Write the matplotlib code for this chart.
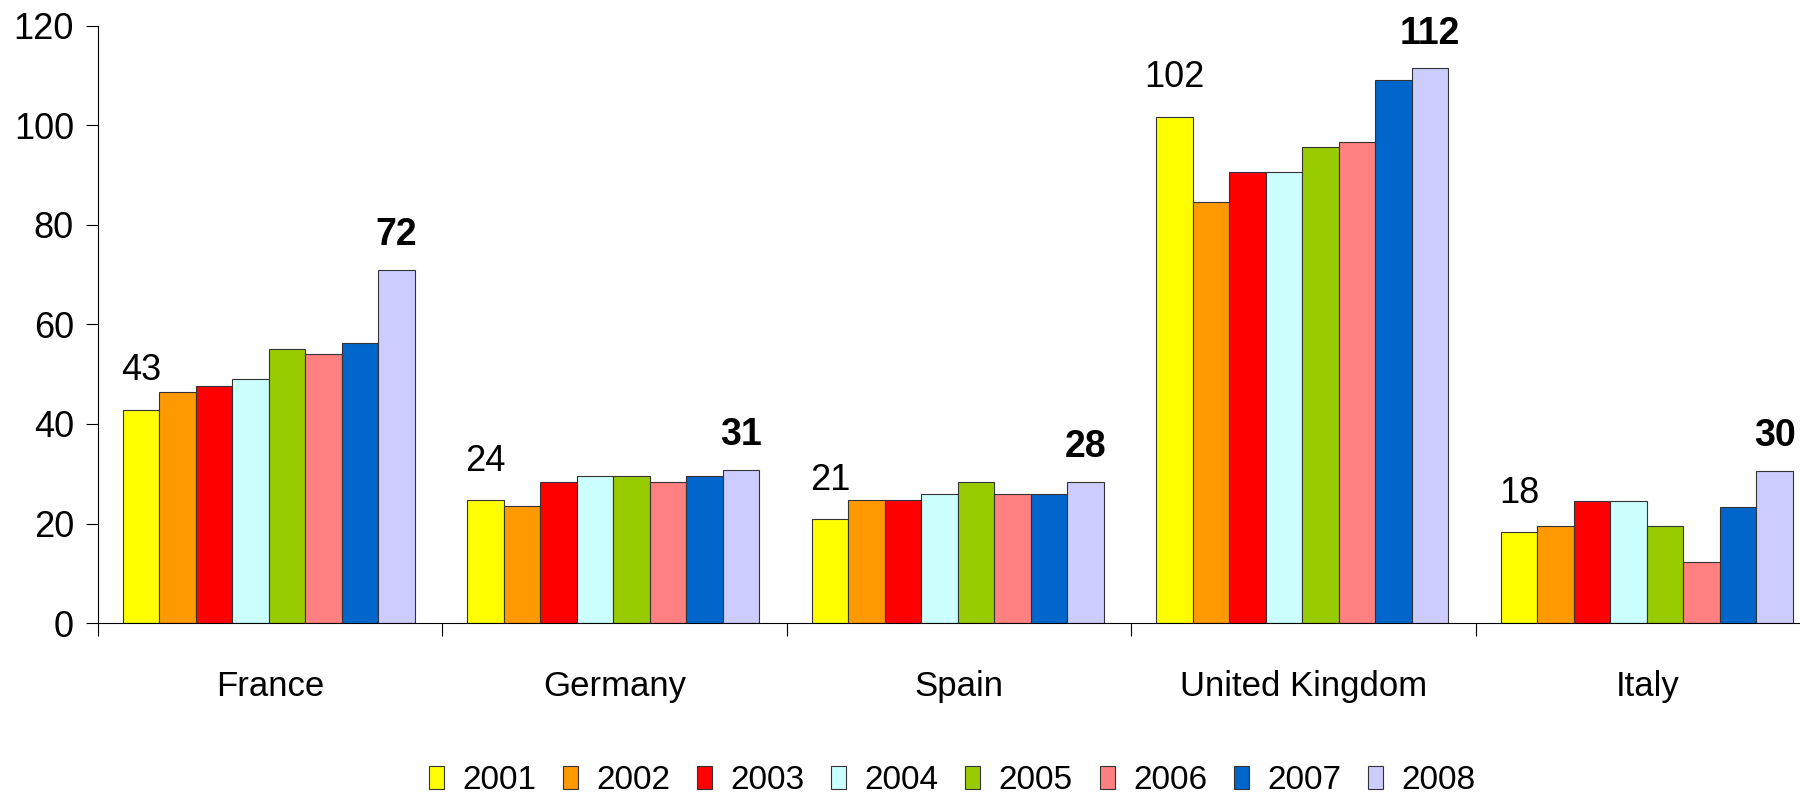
import matplotlib
matplotlib.use("Agg")
import matplotlib.pyplot as plt
import numpy as np

plt.rcParams['font.family'] = ['Liberation Sans', 'DejaVu Sans']

countries = ['France', 'Germany', 'Spain', 'United Kingdom', 'Italy']
years = ['2001', '2002', '2003', '2004', '2005', '2006', '2007', '2008']
colors = ['#FFFF00', '#FF9900', '#FF0000', '#CCFFFF', '#99CC00', '#FF8080', '#0066CC', '#CCCCFF']

# one list per year, values for France, Germany, Spain, UK, Italy
v2001 = [42.9, 24.7, 20.9, 101.7, 18.3]
v2002 = [46.5, 23.5, 24.7, 84.5, 19.5]
v2003 = [47.7, 28.4, 24.7, 90.6, 24.5]
v2004 = [49.0, 29.6, 25.9, 90.6, 24.5]
v2005 = [55.1, 29.6, 28.4, 95.6, 19.5]
v2006 = [54.0, 28.4, 25.9, 96.7, 12.3]
v2007 = [56.3, 29.6, 25.9, 109.1, 23.3]
v2008 = [71.0, 30.8, 28.4, 111.5, 30.6]

first_labels = ['43', '24', '21', '102', '18']
last_labels = ['72', '31', '28', '112', '30']

series = [v2001, v2002, v2003, v2004, v2005, v2006, v2007, v2008]

fig = plt.figure(figsize=(18, 8.02), dpi=100)
ax = fig.add_axes([0.0542, 0.223, 0.957, 0.745])

w = 0.106
start = 0.073
x = np.arange(len(countries))
for i, vals in enumerate(series):
    ax.bar(x + start + i * w, vals, width=w, align='edge', color=colors[i],
           edgecolor='#333333', linewidth=0.8, label=years[i])

for j in range(len(countries)):
    ax.text(x[j] + start + 0.5 * w, series[0][j] + 4.3, first_labels[j],
            ha='center', va='bottom', fontsize=26)
    ax.text(x[j] + start + 7.5 * w, series[7][j] + 3.3, last_labels[j],
            ha='center', va='bottom', fontsize=27, fontweight='bold')

ax.set_xlim(0, 5)
ax.set_ylim(0, 120)
ax.set_yticks(range(0, 121, 20))
ax.set_xticks(range(0, 6))
ax.set_xticklabels([])
ax.set_xticks(x + 0.5, minor=True)
ax.set_xticklabels(countries, minor=True)
ax.tick_params(axis='x', which='minor', length=0, pad=34, labelsize=25)
ax.tick_params(axis='x', which='major', length=9, direction='out', width=0.8)
ax.tick_params(axis='y', length=9, width=0.8, pad=8, labelsize=26)

for s in ['top', 'right']:
    ax.spines[s].set_visible(False)
ax.spines['left'].set_linewidth(0.8)
ax.spines['bottom'].set_linewidth(0.8)

fig.legend(loc='lower center', bbox_to_anchor=(0.529, -0.03), ncol=8,
           frameon=False, fontsize=24, handlelength=0.45, handleheight=0.7,
           handletextpad=0.55, columnspacing=0.8)

fig.savefig('out.png', dpi=100)
